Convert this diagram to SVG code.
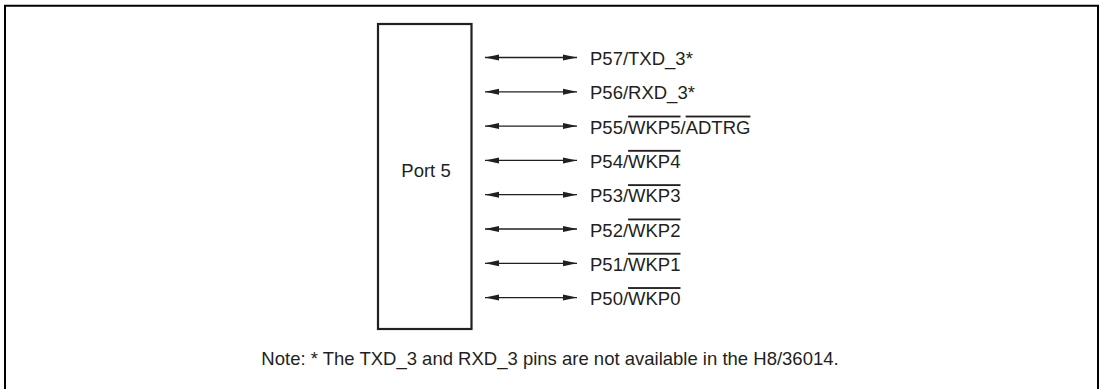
<svg xmlns="http://www.w3.org/2000/svg" width="1102" height="389" viewBox="0 0 1102 389">
<style>
text{font-family:"Liberation Sans",Arial,sans-serif;font-size:18.5px;fill:#231f20}
.ol{text-decoration:overline}
.conn line{stroke:#231f20;stroke-width:1.3;marker-start:url(#ah);marker-end:url(#ah)}
</style>
<defs>
<marker id="ah" markerUnits="userSpaceOnUse" markerWidth="16" markerHeight="8" viewBox="0 -4 16 8" refX="14" refY="0" orient="auto-start-reverse">
<path d="M0,-3 L14,0 L0,3 Z" fill="#231f20"/>
</marker>
</defs>
<rect width="1102" height="389" fill="#fff"/>
<path d="M5,392 V5.8 H1098 V392" fill="none" stroke="#000" stroke-width="2"/>
<g id="port5">
<rect x="378" y="24" width="93.5" height="305" fill="none" stroke="#231f20" stroke-width="2.2"/>
<text x="426" y="177" text-anchor="middle">Port 5</text>
</g>
<g class="conn" id="connectors">
<line x1="485" y1="57.5" x2="577" y2="57.5"/>
<line x1="485" y1="91.8" x2="577" y2="91.8"/>
<line x1="485" y1="126.1" x2="577" y2="126.1"/>
<line x1="485" y1="160.4" x2="577" y2="160.4"/>
<line x1="485" y1="194.7" x2="577" y2="194.7"/>
<line x1="485" y1="229" x2="577" y2="229"/>
<line x1="485" y1="263.3" x2="577" y2="263.3"/>
<line x1="485" y1="297.6" x2="577" y2="297.6"/>
</g>
<g id="p57"><text x="590" y="65">P57/TXD_3*</text></g>
<g id="p56"><text x="590" y="99.3">P56/RXD_3*</text></g>
<g id="p55"><text x="590" y="133.6">P55/<tspan class="ol">WKP5</tspan>/<tspan class="ol">ADTRG</tspan></text></g>
<g id="p54"><text x="590" y="167.9">P54/<tspan class="ol">WKP4</tspan></text></g>
<g id="p53"><text x="590" y="202.2">P53/<tspan class="ol">WKP3</tspan></text></g>
<g id="p52"><text x="590" y="236.5">P52/<tspan class="ol">WKP2</tspan></text></g>
<g id="p51"><text x="590" y="270.8">P51/<tspan class="ol">WKP1</tspan></text></g>
<g id="p50"><text x="590" y="305.1">P50/<tspan class="ol">WKP0</tspan></text></g>
<g id="note"><text x="550" y="365" text-anchor="middle">Note: * The TXD_3 and RXD_3 pins are not available in the H8/36014.</text></g>
</svg>
